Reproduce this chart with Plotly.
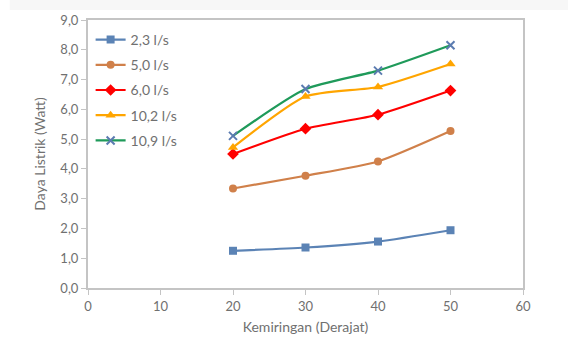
import plotly.graph_objects as go

kemiringan = [20, 30, 40, 50]
series_names = ["2,3 l/s", "5,0 l/s", "6,0 l/s", "10,2 l/s", "10,9 l/s"]
daya_2_3 = [1.25, 1.36, 1.56, 1.94]
daya_5_0 = [3.34, 3.77, 4.25, 5.27]
daya_6_0 = [4.50, 5.35, 5.82, 6.63]
daya_10_2 = [4.72, 6.43, 6.75, 7.52]
daya_10_9 = [5.11, 6.68, 7.30, 8.15]
y_ticks = [0, 1, 2, 3, 4, 5, 6, 7, 8, 9]
y_tick_labels = ["0,0", "1,0", "2,0", "3,0", "4,0", "5,0", "6,0", "7,0", "8,0", "9,0"]
x_ticks = [0, 10, 20, 30, 40, 50, 60]

styles = [
    dict(line="#5b83b5", marker="#5b83b5", symbol="square", size=8, lw=0),
    dict(line="#d0804a", marker="#d0804a", symbol="circle", size=8, lw=0),
    dict(line="#ff0000", marker="#ff0000", symbol="diamond", size=9, lw=0),
    dict(line="#ffa500", marker="#ffa500", symbol="triangle-up", size=9, lw=0),
    dict(line="#1f9a5a", marker="#5b7bb0", symbol="x-thin-open", size=8, lw=2),
]
values = [daya_2_3, daya_5_0, daya_6_0, daya_10_2, daya_10_9]

fig = go.Figure()
for name, vals, st in zip(series_names, values, styles):
    fig.add_trace(go.Scatter(
        x=kemiringan, y=vals, name=name, mode="lines+markers",
        line=dict(color=st["line"], width=2.2, shape="spline", smoothing=0.6),
        marker=dict(color=st["marker"], symbol=st["symbol"], size=st["size"],
                    line=dict(color=st["marker"], width=st["lw"])),
        legendgroup=name,
    ))

grey = "#707070"
fig.update_layout(
    width=568, height=340,
    margin=dict(l=88, r=45, t=20, b=52, autoexpand=False),
    paper_bgcolor="white", plot_bgcolor="white",
    font=dict(family="Lato, Open Sans, sans-serif", size=14, color=grey),
    showlegend=True,
    legend=dict(x=0.006, y=0.985, xanchor="left", yanchor="top",
                bgcolor="rgba(0,0,0,0)", tracegroupgap=4,
                font=dict(size=14, color=grey), itemwidth=30),
    xaxis=dict(range=[0, 60], tickvals=x_ticks, showgrid=False, zeroline=False,
               showline=True, linecolor="#c4c4c4", linewidth=2, mirror=True,
               ticks="outside", ticklen=5, tickcolor="#c4c4c4",
               tickfont=dict(size=13), automargin=False,
               title=dict(text="Kemiringan (Derajat)", standoff=10, font=dict(size=14, color=grey))),
    yaxis=dict(range=[0, 9], tickvals=y_ticks, ticktext=y_tick_labels, showgrid=False,
               zeroline=False, showline=True, linecolor="#c4c4c4", linewidth=2, mirror=True,
               ticks="outside", ticklen=5, tickcolor="#c4c4c4",
               tickfont=dict(size=13), automargin=False,
               title=dict(text="Daya Listrik (Watt)", standoff=11, font=dict(size=14, color=grey))),
    shapes=[dict(type="rect", xref="paper", yref="paper", x0=-0.18, x1=1.11, y0=1.037, y1=1.08,
                 fillcolor="#f7f7f7", line=dict(width=0), layer="below")],
)
fig.write_html("out.html", config={"displayModeBar": False})
with open("out.html", encoding="utf-8") as f:
    html = f.read()
html = html.replace("<head>", "<head><style>html,body{margin:0;padding:0;}</style>", 1)
with open("out.html", "w", encoding="utf-8") as f:
    f.write(html)
